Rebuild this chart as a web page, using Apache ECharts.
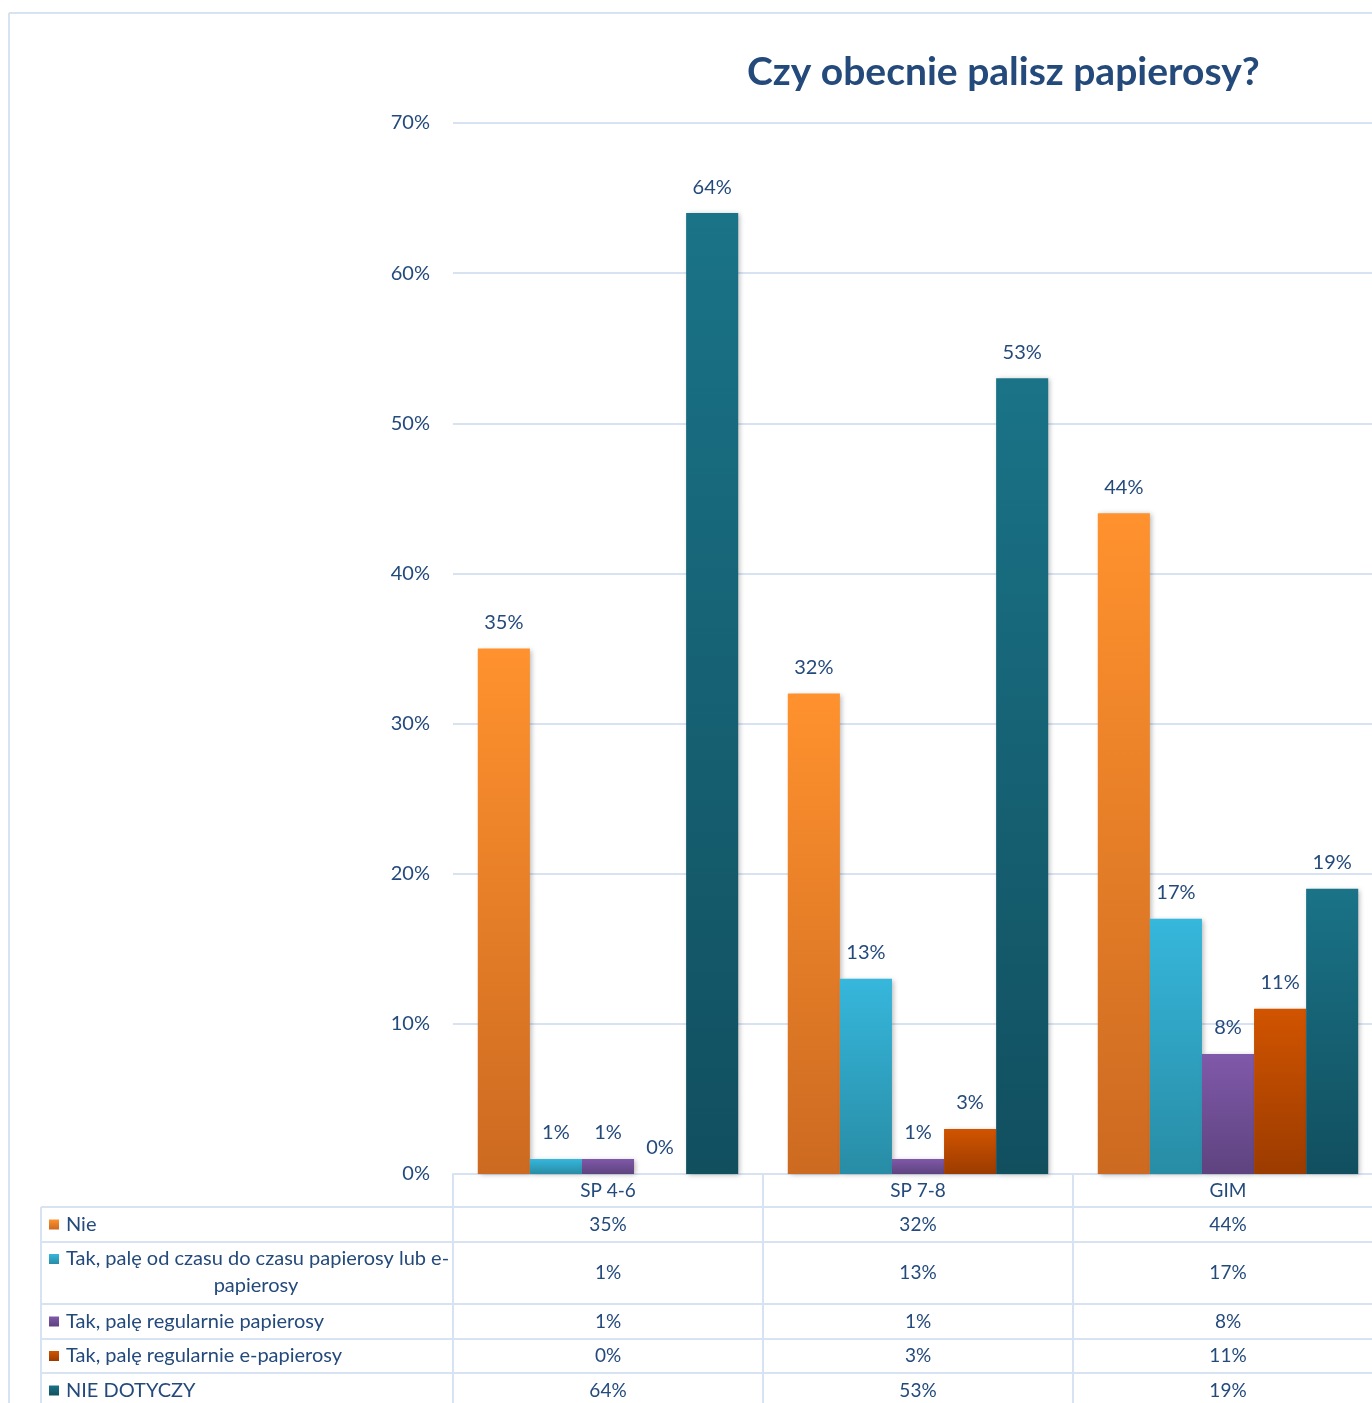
<!DOCTYPE html>
<html><head><meta charset="utf-8">
<script src="https://cdn.jsdelivr.net/npm/echarts@6/dist/echarts.min.js"></script>
<style>html,body{margin:0;padding:0;overflow:hidden;background:#fff}#c{width:1383px;height:1403px}</style>
</head><body><div id="c"></div>
<script>
const categories = ['SP 4-6', 'SP 7-8', 'GIM'];
const seriesNames = ['Nie', 'Tak, palę od czasu do czasu papierosy lub e-papierosy', 'Tak, palę regularnie papierosy', 'Tak, palę regularnie e-papierosy', 'NIE DOTYCZY'];
const nie = [35, 32, 44];
const takOdCzasu = [1, 13, 17];
const takRegularniePapierosy = [1, 1, 8];
const takRegularnieEPapierosy = [0, 3, 11];
const nieDotyczy = [64, 53, 19];
const yMin = 0, yMax = 70, yStep = 10;
const titleText = 'Czy obecnie palisz papierosy?';

const values = [nie, takOdCzasu, takRegularniePapierosy, takRegularnieEPapierosy, nieDotyczy];
const gradients = [
  ['#ff922e', '#cc6a21'],
  ['#36b7dc', '#288ca5'],
  ['#8059aa', '#5e437f'],
  ['#d15400', '#9b3b00'],
  ['#1a7387', '#114f5f']
];
const TXT = '#244a7c';
const GRIDC = '#d7e3f3';
const FONT = 'Lato, "Open Sans", sans-serif';

const gridTop = 123, gridBottomY = 1174, gridLeft = 453;
const H = 1403;
// table rows: [top, height]
const rowTop = [1174, 1207, 1242, 1304, 1339, 1373];
const rowH = [33, 35, 62, 35, 34, 35];

function grad(c) {
  return new echarts.graphic.LinearGradient(0, 0, 0, 1, [{offset: 0, color: c[0]}, {offset: 1, color: c[1]}]);
}

const xAxes = [];
for (let r = 0; r < 6; r++) {
  xAxes.push({
    type: 'category',
    data: categories,
    gridIndex: 0,
    position: 'bottom',
    offset: rowTop[r] - gridBottomY,
    axisLine: {show: true, lineStyle: {color: GRIDC, width: 2}},
    axisTick: {show: true, length: rowH[r], lineStyle: {color: GRIDC, width: 2}},
    axisLabel: {
      show: true, margin: rowH[r] / 2, verticalAlign: 'middle',
      color: TXT, fontSize: 19, fontFamily: FONT,
      formatter: r === 0 ? (v) => v : ((v, i) => values[r - 1][i] + '%')
    },
    splitLine: {show: false}
  });
}

const series = seriesNames.map((n, s) => ({
  name: n,
  type: 'bar',
  xAxisIndex: 0,
  data: values[s],
  barGap: '0%',
  barCategoryGap: '16%',
  itemStyle: {color: grad(gradients[s]), shadowColor: 'rgba(0,0,0,0.28)', shadowBlur: 5, shadowOffsetX: 2, shadowOffsetY: 1},
  label: {show: true, position: 'top', distance: 16, formatter: '{c}%', color: TXT, fontSize: 20, fontFamily: FONT}
}));

// legend column of the data table
const graphics = [];
graphics.push({type: 'line', shape: {x1: 9, y1: 13, x2: 9, y2: H}, style: {stroke: GRIDC, lineWidth: 2}});
graphics.push({type: 'line', shape: {x1: 9, y1: 13, x2: 1383, y2: 13}, style: {stroke: GRIDC, lineWidth: 2}});
graphics.push({type: 'line', shape: {x1: 41, y1: rowTop[1], x2: 41, y2: H}, style: {stroke: GRIDC, lineWidth: 2}});
for (let r = 1; r < 6; r++) {
  graphics.push({type: 'line', shape: {x1: 41, y1: rowTop[r], x2: gridLeft, y2: rowTop[r]}, style: {stroke: GRIDC, lineWidth: 2}});
  const cy = rowTop[r] + rowH[r] / 2;
  const name = seriesNames[r - 1];
  const wrapAt = name.indexOf(' e-papierosy');
  const multi = r === 2;
  const line1 = multi ? name.slice(0, wrapAt + 3) : name;
  const y1 = multi ? cy - 14 : cy;
  graphics.push({type: 'rect', shape: {x: 49, y: y1 - 5, width: 10, height: 10}, style: {fill: grad(gradients[r - 1])}});
  graphics.push({type: 'text', x: 66, y: y1, style: {text: line1, fill: TXT, font: '20px ' + FONT, textVerticalAlign: 'middle', textAlign: 'left'}});
  if (multi) {
    graphics.push({type: 'text', x: 256, y: cy + 13, style: {text: name.slice(wrapAt + 3), fill: TXT, font: '20px ' + FONT, textVerticalAlign: 'middle', textAlign: 'center'}});
  }
}

const chart = echarts.init(document.getElementById('c'), null, {renderer: 'canvas'});
chart.setOption({
  backgroundColor: '#fff',
  animation: false,
  title: {text: titleText, left: 742, top: 48, textStyle: {color: TXT, fontSize: 39, fontWeight: 'bold', fontFamily: FONT}},
  grid: {left: gridLeft, right: 0, top: gridTop, bottom: H - gridBottomY, containLabel: false},
  xAxis: xAxes,
  yAxis: {
    type: 'value', min: yMin, max: yMax, interval: yStep,
    axisLine: {show: false}, axisTick: {show: false},
    axisLabel: {formatter: '{value}%', color: TXT, fontSize: 20, fontFamily: FONT, margin: 23},
    splitLine: {lineStyle: {color: GRIDC, width: 2}}
  },
  legend: {show: false},
  series: series,
  graphic: graphics
});
</script></body></html>
